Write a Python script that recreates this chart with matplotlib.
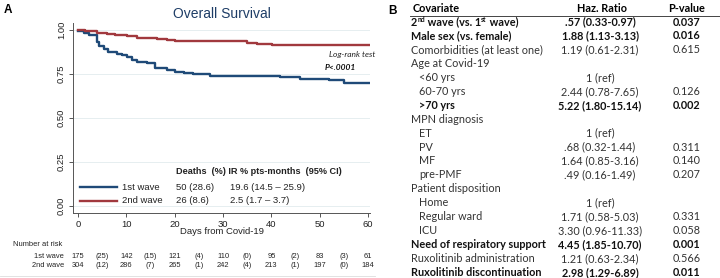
import numpy as np
import matplotlib
matplotlib.use("Agg")
import matplotlib.pyplot as plt
import matplotlib.transforms as mtransforms

# --- KM curves (days, survival) ---
t_wave1 = [0, 1.2, 2.3, 3.9, 4.4, 5.4, 6.3, 8.0, 9.2, 10.1, 11.2, 12.2, 14.3, 15.9, 18.4, 20.0, 22.0, 23.8, 27.3, 41.8, 46.0, 52.0, 55.0, 60.3]
s_wave1 = [0.995, 0.983, 0.97, 0.93, 0.912, 0.89, 0.876, 0.866, 0.856, 0.847, 0.83, 0.818, 0.81, 0.787, 0.773, 0.762, 0.756, 0.75, 0.741, 0.733, 0.722, 0.716, 0.697, 0.697]
t_wave2 = [0, 1.4, 3.9, 6.0, 6.6, 7.7, 10.1, 12.2, 14.3, 16.3, 18.4, 20.1, 35.0, 37.0, 40.1, 60.3]
s_wave2 = [1.0, 0.992, 0.985, 0.98, 0.975, 0.97, 0.966, 0.956, 0.952, 0.947, 0.943, 0.937, 0.928, 0.923, 0.917, 0.917]

# number at risk and events between ticks
risk_days = [0, 10, 20, 30, 40, 50, 60]
risk_wave1 = [175, 142, 121, 110, 95, 83, 61]
events_wave1 = [25, 15, 4, 0, 2, 3]
risk_wave2 = [304, 286, 265, 242, 213, 197, 184]
events_wave2 = [12, 7, 1, 4, 1, 0]

legend_names = ["1st wave", "2nd wave"]
deaths = ["50 (28.6)", "26 (8.6)"]
ir_ci = ["19.6 (14.5 \u2013 25.9)", "2.5 (1.7 \u2013 3.7)"]

# --- Cox table ---
# first row has superscripts: pieces (text, is_superscript)
first_row = [("2", 0), ("nd", 1), (" wave (vs. 1", 0), ("st", 1), (" wave)", 0)]
cov_names = ["", "Male sex (vs. female)",
             "Comorbidities (at least one)", "Age at Covid-19", "<60 yrs", "60-70 yrs", ">70 yrs",
             "MPN diagnosis", "ET", "PV", "MF", "pre-PMF", "Patient disposition", "Home",
             "Regular ward", "ICU", "Need of respiratory support", "Ruxolitinib administration",
             "Ruxolitinib discontinuation"]
hazard = [".57 (0.33-0.97)", "1.88 (1.13-3.13)", "1.19 (0.61-2.31)", "", "1 (ref)",
          "2.44 (0.78-7.65)", "5.22 (1.80-15.14)", "", "1 (ref)", ".68 (0.32-1.44)",
          "1.64 (0.85-3.16)", ".49 (0.16-1.49)", "", "1 (ref)", "1.71 (0.58-5.03)",
          "3.30 (0.96-11.33)", "4.45 (1.85-10.70)", "1.21 (0.63-2.34)", "2.98 (1.29-6.89)"]
pvals = ["0.037", "0.016", "0.615", "", "", "0.126", "0.002", "", "", "0.311", "0.140",
         "0.207", "", "", "0.331", "0.058", "0.001", "0.566", "0.011"]
indented = [0, 0, 0, 0, 1, 1, 1, 0, 1, 1, 1, 1, 0, 1, 1, 1, 0, 0, 0]
bold = [1, 1, 0, 0, 0, 0, 1, 0, 0, 0, 0, 0, 0, 0, 0, 0, 1, 0, 1]

W, H = 720, 278
blue = "#1f4a78"
red = "#a1393e"

fig = plt.figure(figsize=(W / 100, H / 100), dpi=100)

def fx(x):
    return x / W

def fy(y):
    return 1 - y / H

# axes: x pixels 73..370, y pixels 23..213
ax = fig.add_axes([fx(73), fy(213), (370 - 73) / W, (213 - 23) / H])
ax.set_xlim(-1.03, 60.4)
ax.set_ylim(-0.04, 1.04)
for sp in ["top", "right"]:
    ax.spines[sp].set_visible(False)
for sp in ["left", "bottom"]:
    ax.spines[sp].set_color("#555555")
    ax.spines[sp].set_linewidth(0.7)
ax.set_yticks([0, 0.25, 0.5, 0.75, 1.0])
ax.set_yticklabels(["0.00", "0.25", "0.50", "0.75", "1.00"], rotation=90, va="center")
ax.set_xticks(risk_days)
ax.tick_params(labelsize=6.8, length=3, width=0.7, color="#555555", labelcolor="#222222",
               pad=2)
for lab in ax.get_xticklabels() + ax.get_yticklabels():
    lab.set_family("Liberation Sans")
ax.grid(axis="y", color="#e6eef0", lw=0.7)
ax.set_axisbelow(True)

ax.step(t_wave1, s_wave1, where="post", color=blue, lw=1.7)
ax.step(t_wave2, s_wave2, where="post", color=red, lw=1.7)

fig.text(fx(222), fy(14), "Overall Survival", ha="center", va="center", fontsize=10,
         color="#1e3d66", family="Liberation Sans")
fig.text(fx(222), fy(232), "Days from Covid-19", ha="center", va="center", fontsize=6.8,
         color="#222222", family="Liberation Sans")
fig.text(fx(8), fy(10), "A", fontsize=8.5, weight="bold", ha="center", va="center",
         family="Liberation Sans")
fig.text(fx(393), fy(11), "B", fontsize=8.5, weight="bold", ha="center", va="center",
         family="Liberation Sans")

# log-rank
fig.text(fx(352), fy(55), "Log-rank test", ha="center", va="center", fontsize=6,
         style="italic", family="Lato", color="#222222")
fig.text(fx(340), fy(67), "P<.0001", ha="center", va="center", fontsize=6,
         style="italic", weight="bold", family="Lato", color="#111111")

# legend-like box
fig.text(fx(176), fy(171), "Deaths  (%) IR % pts-months  (95% CI)", fontsize=6.6,
         weight="bold", va="center", family="Liberation Sans", color="#222222")
for i, (nm, col) in enumerate(zip(legend_names, [blue, red])):
    yy = 187 + 13.5 * i
    fig.add_artist(plt.Line2D([fx(80), fx(117)], [fy(yy), fy(yy)], color=col, lw=1.7))
    fig.text(fx(122), fy(yy), nm, fontsize=6.8, va="center", family="Liberation Sans",
             color="#222222")
    fig.text(fx(176), fy(yy), deaths[i], fontsize=6.8, va="center", family="Liberation Sans",
             color="#222222")
    fig.text(fx(230), fy(yy), ir_ci[i], fontsize=6.8, va="center", family="Liberation Sans",
             color="#222222")

# number at risk
tr = mtransforms.blended_transform_factory(ax.transData, fig.transFigure)
fig.text(fx(13), fy(244), "Number at risk", fontsize=5.4, va="center",
         family="Liberation Sans", color="#222222")
for row, (nm, risk, ev) in enumerate(zip(legend_names, [risk_wave1, risk_wave2],
                                         [events_wave1, events_wave2])):
    yy = fy(256 + 9.5 * row)
    fig.text(fx(64), yy, nm, fontsize=5.4, va="center", ha="right",
             family="Liberation Sans", color="#222222")
    for d, r in zip(risk_days, risk):
        ax.text(d, yy, str(r), transform=tr, fontsize=5.4, ha="center", va="center",
                family="Liberation Sans", color="#222222")
    for d, e in zip(risk_days[:-1], ev):
        ax.text(d + 5, yy, "(%d)" % e, transform=tr, fontsize=5.4, ha="center",
                va="center", family="Liberation Sans", color="#222222")

fig.add_artist(plt.Line2D([0, fx(375)], [fy(276), fy(276)], color="#dddddd", lw=0.6))

# --- table B ---
tfs = 7.8
base = 3.8  # pixels from row centre to baseline
fig.text(fx(413), fy(8 + base), "Covariate", fontsize=tfs, weight="bold", va="baseline",
         family="Lato")
fig.text(fx(602), fy(8 + base), "Haz. Ratio", fontsize=tfs, weight="bold", va="baseline",
         ha="center", family="Lato")
fig.text(fx(687), fy(8 + base), "P-value", fontsize=tfs, weight="bold", va="baseline",
         ha="center", family="Lato")
fig.add_artist(plt.Line2D([fx(410), 1], [fy(15.5), fy(15.5)], color="#444444", lw=0.7))

renderer = fig.canvas.get_renderer()
for i in range(len(cov_names)):
    ypx = 21.7 + 13.9 * i + base
    w = "bold" if bold[i] else "normal"
    c = "#111111" if bold[i] else "#333333"
    x0 = 419 if indented[i] else 411
    if i == 0:
        xp = x0
        for piece, sup in first_row:
            t = fig.text(fx(xp), fy(ypx - (3.5 if sup else 0)), piece,
                         fontsize=tfs * (0.62 if sup else 1), weight=w, va="baseline",
                         family="Lato", color=c)
            xp += t.get_window_extent(renderer).width
    else:
        fig.text(fx(x0), fy(ypx), cov_names[i], fontsize=tfs, weight=w, va="baseline",
                 family="Lato", color=c)
    fig.text(fx(600), fy(ypx), hazard[i], fontsize=tfs, weight=w, va="baseline", ha="center",
             family="Lato", color=c)
    fig.text(fx(687), fy(ypx), pvals[i], fontsize=tfs, weight=w, va="baseline", ha="center",
             family="Lato", color=c)

fig.savefig("out.png", dpi=100)
